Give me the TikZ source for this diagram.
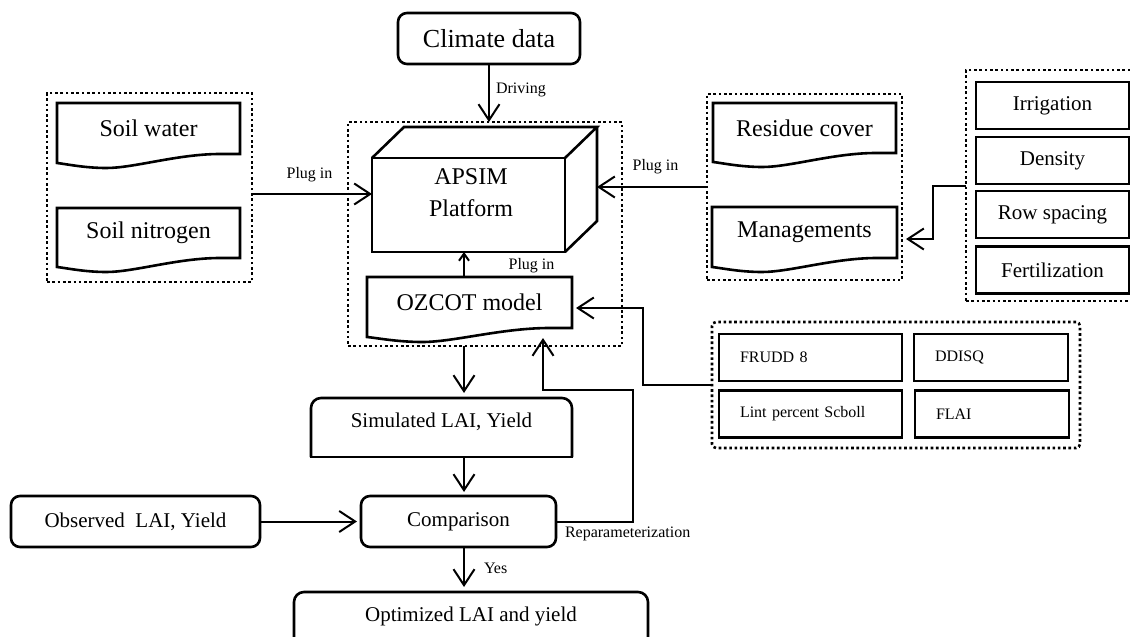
\documentclass[tikz,border=0pt]{standalone}
\usepackage{fontspec}
\setmainfont{Liberation Serif}
\usetikzlibrary{arrows.meta,calc}

% type sizes
\newcommand\szClim{\fontsize{26}{30}\selectfont}
\newcommand\szBig{\fontsize{24}{32}\selectfont}
\newcommand\szMid{\fontsize{21}{25}\selectfont}
\newcommand\szSmall{\fontsize{16}{19}\selectfont}

% outline of a "document" box: flat top, wavy bottom edge
\newcommand\docpath[1]{%
  \draw[boxline] ($(#1.south west)+(0,9)$) -- (#1.north west) -- (#1.north east) -- (#1.south east)
    -- ($(#1.south east)!0.12!(#1.south west)$)
    .. controls ($(#1.south east)!0.35!(#1.south west)+(0,0.5)$) and ($(#1.south west)!0.42!(#1.south east)+(0,14)$)
    .. ($(#1.south west)!0.27!(#1.south east)+(0,14)$)
    .. controls ($(#1.south west)!0.15!(#1.south east)+(0,14)$) and ($(#1.south west)!0.05!(#1.south east)+(0,10)$)
    .. ($(#1.south west)+(0,9)$) -- cycle;}

\tikzset{
  every node/.style={outer sep=0pt},
  boxline/.style={line width=2.6pt, line join=miter},
  box/.style={draw, boxline, inner sep=0pt, align=center},
  rbox/.style={box, rounded corners=9pt},
  docnode/.style={inner sep=0pt, font=\szBig},
  dotbox/.style={draw, line width=2.6pt, dash pattern=on 2.6pt off 2.7pt, inner sep=0pt},
  mbox/.style={box, minimum width=153pt, minimum height=47pt, font=\szMid},
  pbox/.style={box, minimum height=47pt, inner xsep=21pt, inner ysep=0pt, align=left, font=\szSmall},
  conn/.style={line width=2pt},
  arr/.style={conn, -{Straight Barb[length=16pt,width=21pt]}},
  arrsmall/.style={conn, -{Straight Barb[length=7pt,width=10pt]}},
  lbl/.style={inner sep=0pt, font=\szSmall},
}

\begin{document}
\begin{tikzpicture}[x=1pt,y=-1pt]
\useasboundingbox (0,0) rectangle (1130,637);
\clip (0,0) rectangle (1130,637);

% dotted group frames
\node[dotbox, minimum width=205pt, minimum height=189pt] (soilgrp) at (149.5,187.5) {};
\node[dotbox, minimum width=274pt, minimum height=224pt] (modelgrp) at (485,234) {};
\node[dotbox, minimum width=195pt, minimum height=186pt] (inputgrp) at (804.5,187) {};
\node[dotbox, minimum width=176pt, minimum height=231pt, anchor=west] (mgmtgrp) at (966,185.5) {};
\node[dotbox, rounded corners=4pt, minimum width=368pt, minimum height=126pt] (paramgrp) at (896,385) {};

% climate input
\node[rbox, minimum width=182pt, minimum height=51pt, font=\szClim] (climate) at (489,38.5) {Climate data};

% APSIM platform drawn as a box in perspective
\node[box, minimum width=193pt, minimum height=94pt] (apsim) at (468.5,205) {};
\draw[boxline] (apsim.north west) -- ++(32,-31) -- ++(193,0) -- (apsim.north east);
\draw[boxline] ($(apsim.north east)+(32,-31)$) -- ($(apsim.south east)+(32,-31)$) -- (apsim.south east);
\node[font=\szBig, align=center, inner sep=0pt] (apsimtext) at (471,193) {APSIM\\Platform};

% document boxes
\node[docnode, minimum width=183pt, minimum height=51pt] (soilwater) at (148.5,128.5) {Soil water};
\docpath{soilwater}
\node[docnode, minimum width=183pt, minimum height=50pt] (soilnitro) at (148.5,233) {Soil nitrogen};
\docpath{soilnitro}
\node[docnode, minimum width=183pt, minimum height=50pt] (residue) at (804.5,128) {Residue cover};
\docpath{residue}
\node[docnode, minimum width=185pt, minimum height=51pt] (managements) at (804.5,232.5) {Managements};
\docpath{managements}
\node[docnode, minimum width=205pt, minimum height=51pt] (ozcot) at (469.5,302.5) {OZCOT model};
\docpath{ozcot}

% management options
\node[mbox] (irrig) at (1052.5,105.5) {Irrigation};
\node[mbox] (density) at (1052.5,160.5) {Density};
\node[mbox] (rowsp) at (1052.5,214.5) {Row spacing};
\node[mbox] (fert) at (1052.5,270) {Fertilization};

% cultivar parameters
\node[pbox, text width=141pt] (frudd) at (810.5,357.5) {FRUDD 8};
\node[pbox, text width=112pt] (ddisq) at (991,357.5) {DDISQ};
\node[pbox, text width=141pt] (lint) at (810.5,414) {Lint percent Scboll};
\node[pbox, text width=112pt] (flai) at (992,414) {FLAI};

% simulation and evaluation chain
\node[inner sep=0pt, minimum width=261pt, minimum height=59pt] (sim) at (441.5,427.5) {};
\draw[boxline, rounded corners=10pt] (sim.south west) -- (sim.north west) -- (sim.north east) -- (sim.south east);
\draw[boxline, line cap=rect] (sim.south east) -- (sim.south west);
\node[font=\szMid, inner sep=0pt] (simtext) at (441.5,422) {Simulated LAI, Yield};

\node[rbox, minimum width=195pt, minimum height=51pt, font=\szMid] (comp) at (458.5,521.5) {Comparison};
\node[rbox, minimum width=249pt, minimum height=51pt, font=\szMid] (obs) at (135.5,521.5) {Observed\ \ LAI, Yield};

\node[rbox, rounded corners=10pt, minimum width=354pt, minimum height=90pt] (opt) at (471,637) {};
\node[font=\szMid, inner sep=0pt] (opttext) at (471,616) {Optimized LAI and yield};

% connectors
\coordinate (axis) at ([xshift=-5.5pt]ozcot.north);
\coordinate (soilout) at ([yshift=-6.5pt]soilgrp.east);
\coordinate (cubeback) at ($(apsim.east)+(32,0)$);
\coordinate (mgmtin) at ($(inputgrp.east |- managements.east)+(4,6.5)$);
\coordinate (ozin) at ($(ozcot.east)+(4,5.5)$);
\coordinate (reptip) at ($(ozcot.south east)+(-29,10)$);

\draw[arr] (climate.south) -- (climate.south |- modelgrp.north);
\draw[arr] (soilout) -- (soilout -| apsim.west);
\draw[arr] (inputgrp.west) -- (inputgrp.west -| cubeback);
\draw[arr] (mgmtgrp.west) -- ++(-33,0) |- (mgmtin);
\draw[arr] (paramgrp.west) -- ++(-69,0) |- (ozin);
\draw[arrsmall] (axis) -- (axis |- apsim.south);
\draw[arr] (axis |- modelgrp.south) -- ($(axis |- sim.north)+(0,-5)$);
\draw[arr] (axis |- sim.south) -- ($(axis |- comp.north)+(0,-4)$);
\draw[arr] (obs.east) -- ($(comp.west)+(-4,0)$);
\draw[arr] (comp.east) -- ++(77,0) |- ($(reptip)+(0,52)$) -- (reptip);
\draw[arr] (axis |- comp.south) -- ($(axis |- opt.north)+(0,-5)$);

% connector labels
\node[lbl, anchor=west] (drivinglbl) at ($(climate.south)+(7,26)$) {Driving};
\node[lbl] (plugleft) at ($(soilout)+(57.5,-19)$) {Plug in};
\node[lbl] (plugright) at ($(inputgrp.west)+(-51.5,-20)$) {Plug in};
\node[lbl] (plugoz) at ($(axis)+(67.5,-11)$) {Plug in};
\node[lbl, anchor=west] (replbl) at ($(comp.south east)+(9,-13)$) {Reparameterization};
\node[lbl, anchor=west] (yeslbl) at ($(axis |- comp.south)+(20,21)$) {Yes};
\end{tikzpicture}
\end{document}
